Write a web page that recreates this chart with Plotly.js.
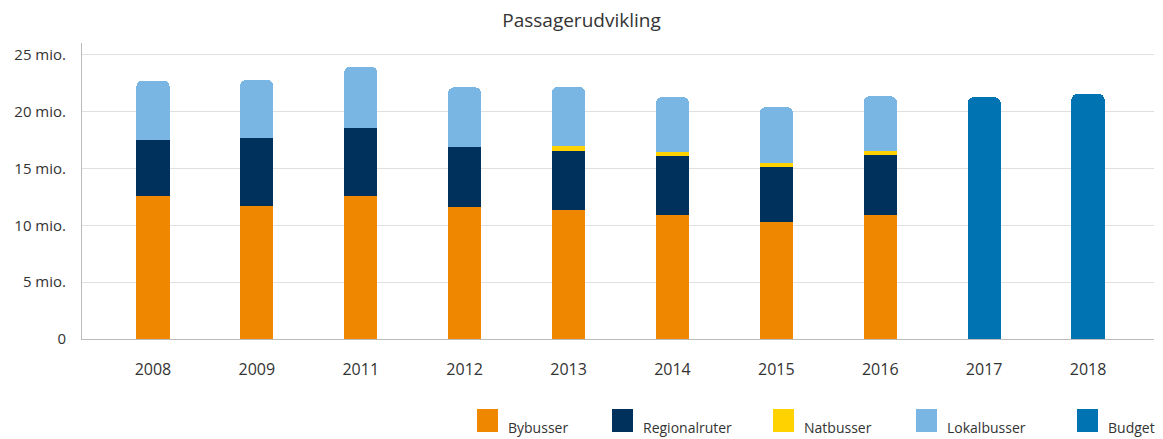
<!DOCTYPE html>
<html><head><meta charset="utf-8">
<script src="https://cdn.plot.ly/plotly-3.0.1.min.js"></script>
<style>html,body{margin:0;padding:0;background:#fff}#c{width:1163px;height:439px}</style>
</head><body><div id="c"></div>
<script>
const years = ["2008","2009","2011","2012","2013","2014","2015","2016","2017","2018"];
const seriesNames = ["Bybusser","Regionalruter","Natbusser","Lokalbusser","Budget"];
const seriesColors = ["#F08700","#00305C","#FFD200","#7AB6E4","#0073B3"];
const bybusser      = [12.6, 11.7, 12.6, 11.6, 11.35, 10.9, 10.3, 10.9, null, null];
const regionalruter = [4.9, 6.0, 5.97, 5.3, 5.2, 5.2, 4.84, 5.3, null, null];
const natbusser     = [0, 0, 0, 0, 0.45, 0.39, 0.36, 0.35, null, null];
const lokalbusser   = [5.24, 5.1, 5.4, 5.25, 5.2, 4.79, 4.9, 4.81, null, null];
const budget        = [null, null, null, null, null, null, null, null, 21.28, 21.57];
const yTickVals = [0, 5, 10, 15, 20, 25];
const yTickText = ["0", "5 mio.", "10 mio.", "15 mio.", "20 mio.", "25 mio."];

const values = [bybusser, regionalruter, natbusser, lokalbusser, budget];
const data = values.map((v, i) => ({
  type: "bar", name: seriesNames[i], x: years, y: v,
  marker: {color: seriesColors[i], line: {width: 0}},
  hoverinfo: "x+y+name", showlegend: false
}));

const FONT = "Open Sans, sans-serif";
const L = 82, R = 1154, T = 43, B = 339;
const pxX = x => (x - L) / (R - L);
const pxY = y => (B - y) / (B - T);
const shapes = [], annotations = [];
const legX = [477, 612, 773, 916, 1077];
legX.forEach((x, i) => {
  shapes.push({type: "rect", xref: "paper", yref: "paper",
    x0: pxX(x), x1: pxX(x + 21), y0: pxY(432), y1: pxY(409),
    fillcolor: seriesColors[i], line: {width: 0}});
  annotations.push({xref: "paper", yref: "paper", x: pxX(x + 29), y: pxY(427),
    xanchor: "left", yanchor: "middle", showarrow: false,
    text: seriesNames[i], font: {family: FONT, size: 14, color: "#333"}});
});

const layout = {
  width: 1163, height: 439,
  margin: {l: L, r: 1163 - R, t: T, b: 439 - B},
  paper_bgcolor: "#fff", plot_bgcolor: "#fff",
  barmode: "stack", bargap: 0.68, barcornerradius: 6,
  title: {text: "Passagerudvikling", x: 0.5, xanchor: "center", y: 0.953, yanchor: "middle",
    font: {family: FONT, size: 19, color: "#333"}},
  font: {family: FONT, size: 15, color: "#333"},
  xaxis: {type: "category", range: [-0.683, 9.635], showgrid: false, showline: true,
    linecolor: "#bbb", linewidth: 1, ticks: "", ticklabelstandoff: 16,
    tickfont: {size: 16, color: "#333"}, fixedrange: true},
  yaxis: {range: [0, 26.05], tickvals: yTickVals, ticktext: yTickText,
    showgrid: true, gridcolor: "#e0e0e0", gridwidth: 1, zeroline: false,
    showline: true, linecolor: "#bbb", linewidth: 1, ticks: "", ticklabelstandoff: 12,
    tickfont: {size: 15, color: "#333"}, fixedrange: true},
  shapes: shapes, annotations: annotations, showlegend: false
};
Plotly.newPlot("c", data, layout, {displayModeBar: false, staticPlot: true});
</script></body></html>
